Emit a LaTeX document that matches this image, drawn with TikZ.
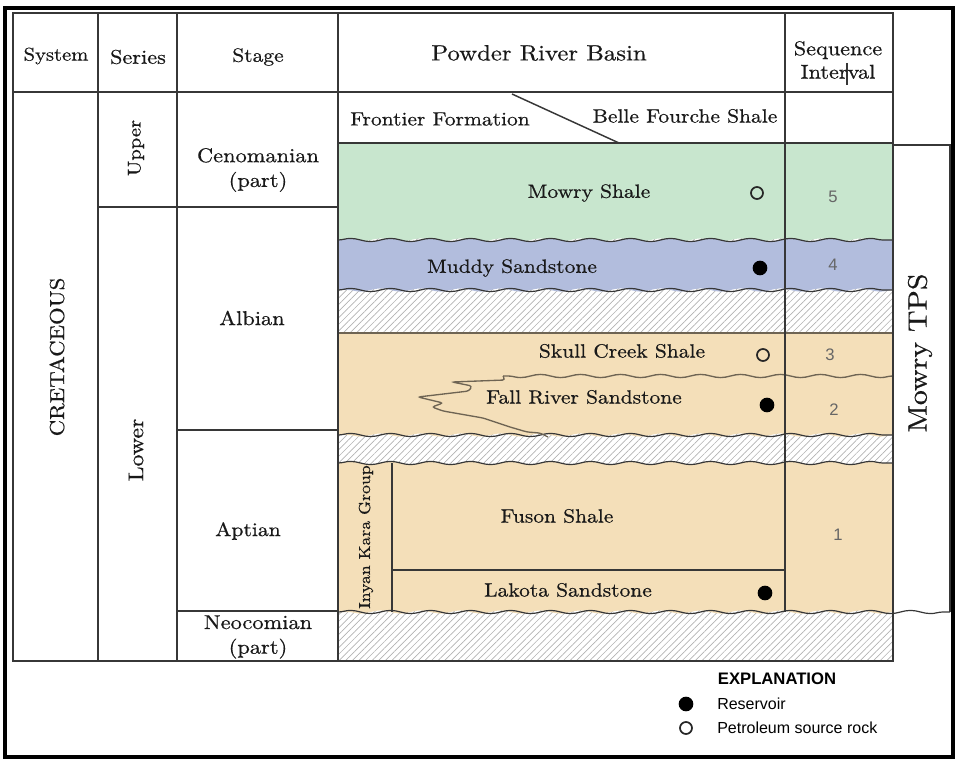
\documentclass[tikz,border=0pt]{standalone}
\usepackage{fontspec}
\setmainfont{lmroman10-regular.otf}[FakeStretch=1.12,FakeBold=0.6,BoldFont=lmroman10-bold.otf]
\newfontfamily\expfont{Liberation Sans}
\usetikzlibrary{decorations.pathmorphing,patterns.meta}
\definecolor{mowrygreen}{RGB}{200,230,206}
\definecolor{muddyblue}{RGB}{178,189,221}
\definecolor{sandtan}{RGB}{244,223,185}
\definecolor{rulegray}{RGB}{55,55,55}
\tikzset{
  wave/.style={decoration={snake,segment length=30pt,amplitude=1.2pt}},
  hatch/.style={pattern={Lines[angle=45,distance=3.5pt,line width=0.5pt]},pattern color=black!30},
  rule/.style={draw=rulegray,line width=1.1pt},
  lbl/.style={font=\fontsize{14.4}{17}\selectfont,text=black!90,align=center,inner sep=0pt},
  stagelbl/.style={lbl,font=\fontsize{15}{18.5}\selectfont},
  seqnum/.style={font=\expfont\fontsize{12.5}{14}\selectfont,text=black!60,inner sep=0pt},
  reservoir/.style={circle,fill=black,minimum size=11pt,inner sep=0pt},
  source/.style={circle,draw=black!85,line width=1.3pt,minimum size=9pt,inner sep=0pt},
}
\begin{document}
\begin{tikzpicture}[x=0.75pt,y=-0.75pt]
  \useasboundingbox (0,0) rectangle (956,762);
  % layers of the basin column
  \fill[hatch] (338,143) rectangle (893,661);
  \fill[mowrygreen] (338,143) -- (893,143) -- (893,240) decorate[wave]{-- (338,240)} -- cycle;
  \fill[muddyblue] (338,240) decorate[wave]{-- (893,240)} -- (893,290) decorate[wave]{-- (338,290)} -- cycle;
  \fill[sandtan] (338,333) -- (893,333) -- (893,435) decorate[wave]{-- (338,435)} -- cycle;
  \fill[sandtan] (338,463) decorate[wave]{-- (893,463)} -- (893,612) decorate[wave]{-- (338,612)} -- cycle;
  \draw[rule,line width=0.9pt,decorate,wave] (338,240) -- (893,240);
  \draw[rule,line width=0.9pt,decorate,wave] (338,290) -- (893,290);
  \draw[rule,line width=0.9pt,decorate,wave] (338,435) -- (893,435);
  \draw[rule,line width=0.9pt,decorate,wave] (338,463) -- (893,463);
  \draw[rule,line width=0.9pt,decorate,wave] (338,612) -- (950,612);
  \draw[draw=black!55!sandtan,line width=1pt] (338,333) -- (893,333);
  % Fall River tongue
  \draw[draw=black!55!sandtan,line width=1pt,decorate,wave] (893,376) -- (503,376);
  \draw[draw=black!55!sandtan,line width=1pt,rounded corners=2pt]
    (503,376) -- (505,380) -- (452,382) -- (472,386) -- (469,391) -- (418,397)
    -- (443,403) -- (432,407) -- (443,411) -- (483,418) -- (510,427)
    -- (527,432) -- (540,433) -- (548,437);
  % table rules
  \draw[rule] (13,13) rectangle (893,661);
  \draw[rule] (13,92) -- (893,92);
  \draw[rule] (338,143) -- (893,143);
  \draw[rule] (98,13) -- (98,661);
  \draw[rule] (177,13) -- (177,661);
  \draw[rule] (338,13) -- (338,661);
  \draw[rule] (785,13) -- (785,612);
  \draw[rule] (98,207) -- (338,207);
  \draw[rule] (177,430) -- (338,430);
  \draw[rule] (177,611) -- (338,611);
  \draw[rule] (512,94) -- (619,143);
  \draw[rule] (392,463) -- (392,612);
  \draw[rule,line width=0.8pt] (392,570) -- (785,570);
  \draw[rule] (893,145) -- (950,145) -- (950,612);
  \draw[rule,line width=0.8pt] (847,63) -- (847,85);
  % header
  \node[lbl,font=\fontsize{13.8}{17}\selectfont] (system) at (56,56) {System};
  \node[lbl,font=\fontsize{14.9}{17}\selectfont] (series) at (138,57) {Series};
  \node[lbl,font=\fontsize{14.4}{17}\selectfont] (stage) at (258,57) {Stage};
  \node[lbl,font=\fontsize{16.6}{20}\selectfont] (basin) at (539,53) {Powder River Basin};
  \node[lbl,font=\fontsize{14.9}{17.5}\selectfont] (seqint) at (838,60) {Sequence\\Interval};
  % time units
  \node[lbl,font=\fontsize{15.2}{18}\selectfont,rotate=90] (cret) at (57,357) {CRETACEOUS};
  \node[lbl,font=\fontsize{13.8}{16}\selectfont,rotate=90] (upper) at (136,148) {Upper};
  \node[lbl,font=\fontsize{16}{19}\selectfont,rotate=90] (lower) at (136,450) {Lower};
  \node[stagelbl] (cenom) at (258,170) {Cenomanian\\(part)};
  \node[stagelbl] (albian) at (252,318) {Albian};
  \node[stagelbl,font=\fontsize{14.5}{17}\selectfont] (aptian) at (248,531) {Aptian};
  \node[stagelbl] (neocom) at (258,637) {Neocomian\\(part)};
  % formations
  \node[lbl] (frontier) at (440,119) {Frontier Formation};
  \node[lbl] (bellef) at (685,116) {Belle Fourche Shale};
  \node[lbl] (mowry) at (589,193) {Mowry Shale};
  \node[lbl] (muddy) at (512,268) {Muddy Sandstone};
  \node[lbl] (skull) at (622,351) {Skull Creek Shale};
  \node[lbl] (fallriver) at (584,397) {Fall River Sandstone};
  \node[lbl] (fuson) at (557,516) {Fuson Shale};
  \node[lbl] (lakota) at (568,590) {Lakota Sandstone};
  \node[lbl,font=\fontsize{11.9}{14}\selectfont,rotate=90] (inyan) at (366,537) {Inyan Kara Group};
  \node[lbl,font=\fontsize{20}{24}\selectfont,rotate=90] (tps) at (920,353) {Mowry TPS};
  % reservoir and source rock marks
  \node[source] (mowrysrc) at (757,193) {};
  \node[reservoir] (muddyres) at (760,268) {};
  \node[source] (skullsrc) at (763,355) {};
  \node[reservoir] (fallres) at (767,405) {};
  \node[reservoir] (lakotares) at (765,593) {};
  % sequence intervals
  \node[seqnum] (seq5) at (833,197) {5};
  \node[seqnum] (seq4) at (833,265) {4};
  \node[seqnum] (seq3) at (830,355) {3};
  \node[seqnum] (seq2) at (834,410) {2};
  \node[seqnum] (seq1) at (838,535) {1};
  % explanation
  \node[font=\expfont\bfseries\fontsize{12.5}{15}\selectfont,inner sep=0pt] (expl) at (777,679) {EXPLANATION};
  \node[reservoir] (keyres) at (686,704) {};
  \node[source] (keysrc) at (686,728) {};
  \node[font=\expfont\fontsize{12}{14}\selectfont,anchor=west,inner sep=0pt] (keyrestxt) at (717,704) {Reservoir};
  \node[font=\expfont\fontsize{12}{14}\selectfont,anchor=west,inner sep=0pt] (keysrctxt) at (717,728) {Petroleum source rock};
  % frame
  \draw[line width=3pt] (5,8) rectangle (953,757);
\end{tikzpicture}
\end{document}
